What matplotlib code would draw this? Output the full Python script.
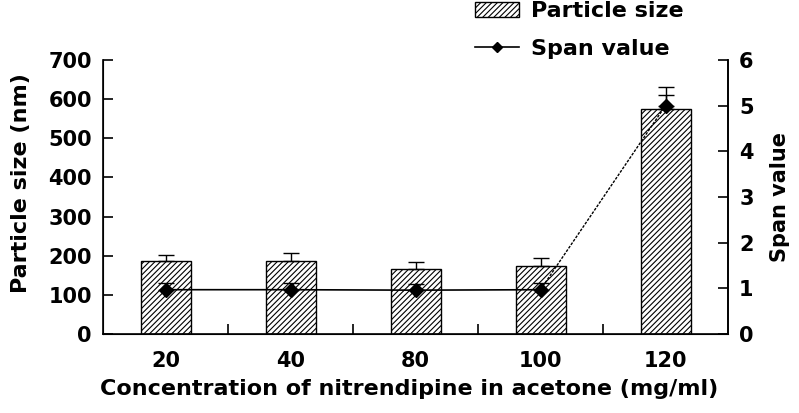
import matplotlib.pyplot as plt
import numpy as np
from matplotlib.lines import Line2D
from matplotlib.patches import Patch

plt.rcParams['font.family'] = ['DejaVu Sans']
plt.rcParams['font.weight'] = 'bold'
plt.rcParams['axes.labelweight'] = 'bold'
plt.rcParams['hatch.linewidth'] = 0.8

# data
conc = ['20', '40', '80', '100', '120']
size = [187, 187, 167, 175, 575]
size_err = [16, 20, 16, 20, 57]
span = [0.97, 0.97, 0.96, 0.97, 5.0]
span_err = [0.14, 0.14, 0.14, 0.14, 0.24]

x = np.arange(len(conc))

fig = plt.figure(figsize=(7.99, 4.13), dpi=100)
ax = fig.add_axes([103/799, 79/413, 625/799, 274/413])

ax.bar(x, size, width=0.4, color='white', edgecolor='black', hatch='//////',
       linewidth=1.0, zorder=2)
ax.errorbar(x, size, yerr=[np.zeros(len(size)), size_err], fmt='none',
            ecolor='black', elinewidth=1.0, capsize=6, capthick=1.0, zorder=3)

ax.set_xlim(-0.5, 4.5)
ax.set_ylim(0, 700)
ax.set_yticks(range(0, 701, 100))
ax.set_xticks(x)
ax.set_xticklabels(conc)
ax.set_xticks(np.arange(0.5, 4.0, 1.0), minor=True)
ax.tick_params(axis='x', which='major', length=0, labelsize=15, pad=12)
ax.tick_params(axis='x', which='minor', direction='in', length=7, width=1.2)
ax.tick_params(axis='y', direction='in', length=7, width=1.2, labelsize=15, pad=8)
for s in ['left', 'bottom', 'right']:
    ax.spines[s].set_linewidth(1.2)
ax.spines['top'].set_visible(False)
ax.set_xlabel('Concentration of nitrendipine in acetone (mg/ml)', fontsize=16)
ax.xaxis.set_label_coords(0.49, -0.165)
ax.set_ylabel('Particle size (nm)', fontsize=16)
ax.yaxis.set_label_coords(-0.115, 0.55)

ax2 = ax.twinx()
ax2.set_ylim(0, 6)
ax2.set_yticks(range(0, 7))
ax2.tick_params(axis='y', direction='in', length=7, width=1.2, labelsize=15, pad=8)
ax2.spines['top'].set_visible(False)
ax2.spines['right'].set_linewidth(1.2)
ax2.plot(x[:4], span[:4], color='black', linewidth=1.2, zorder=4)
ax2.plot(x[3:], span[3:], color='black', linewidth=1.0, linestyle=(0, (2, 1)), zorder=4)
ax2.plot(x, span, linestyle='none', marker='D', markersize=7, color='black', zorder=5)
ax2.errorbar(x, span, yerr=[np.zeros(len(span)), span_err], fmt='none',
             ecolor='black', elinewidth=1.0, capsize=6, capthick=1.0, zorder=5)
ax2.set_ylabel('Span value', fontsize=15)
ax2.yaxis.set_label_coords(1.068, 0.5)

handles = [Patch(facecolor='white', edgecolor='black', hatch='//////'),
           Line2D([], [], color='black', marker='D', markersize=5, linewidth=1.2)]
fig.legend(handles, ['Particle size', 'Span value'], loc='upper left',
           bbox_to_anchor=(455/799, 1.045), frameon=False, fontsize=16,
           handlelength=2.0, handletextpad=0.5, labelspacing=0.8)

fig.savefig('out.png', dpi=100)
